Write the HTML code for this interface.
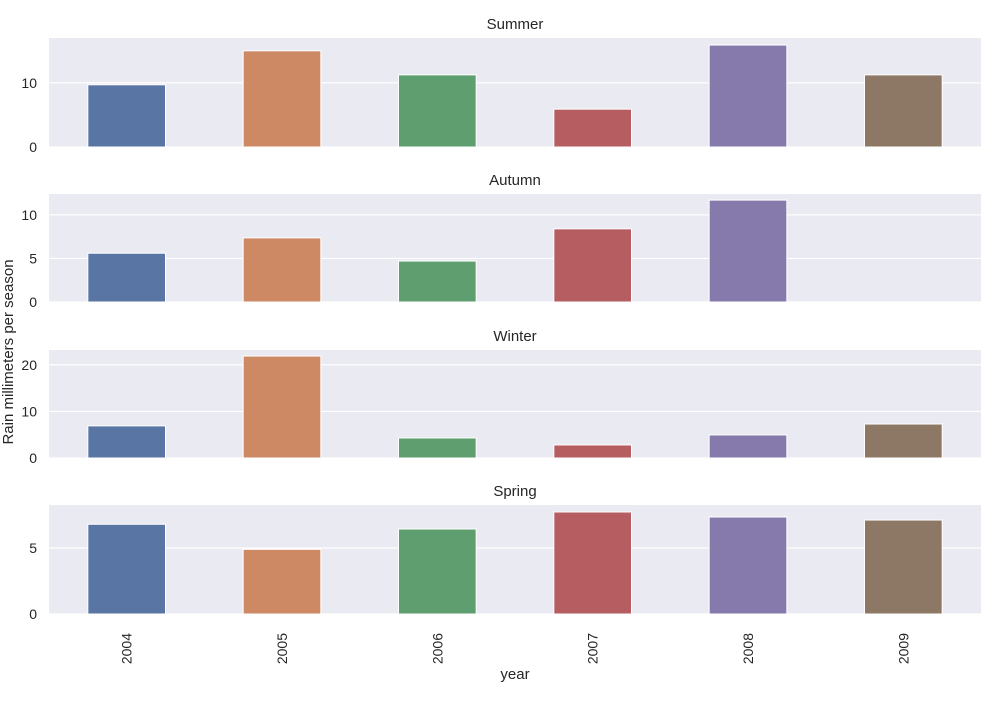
<!DOCTYPE html>
<html><head><meta charset="utf-8"><style>
body{margin:0;background:#fff;font-family:"Liberation Sans",sans-serif}
svg text{font-family:"Liberation Sans",sans-serif;fill:#262626}
</style></head><body>
<svg id="chart" width="1000" height="700"></svg>
<script>
const years = ["2004","2005","2006","2007","2008","2009"];
const seasons = ["Summer","Autumn","Winter","Spring"];
const summerVals = [9.7, 15.0, 11.25, 5.9, 15.9, 11.25];
const autumnVals = [5.6, 7.36, 4.7, 8.4, 11.7, null];
const winterVals = [6.9, 21.9, 4.3, 2.8, 4.95, 7.3];
const springVals = [6.8, 4.9, 6.44, 7.73, 7.35, 7.12];
const summerTicks = [0, 10];
const autumnTicks = [0, 5, 10];
const winterTicks = [0, 10, 20];
const springTicks = [0, 5];
const yMaxes = [17.0, 12.4, 23.2, 8.26];

const allVals = [summerVals, autumnVals, winterVals, springVals];
const allTicks = [summerTicks, autumnTicks, winterTicks, springTicks];
const colors = ["#5875a4","#cc8963","#5f9e6e","#b55d60","#857aab","#8d7866"];
const panels = [{top:38,bottom:147},{top:194,bottom:302},{top:350,bottom:458},{top:505,bottom:614}];
const X0 = 49, X1 = 981;
const NS = "http://www.w3.org/2000/svg";
const svg = document.getElementById("chart");
function mk(tag, attrs, parent){const e=document.createElementNS(NS,tag);for(const k in attrs)e.setAttribute(k,attrs[k]);(parent||svg).appendChild(e);return e;}
const band = (X1-X0)/years.length;
function xCenter(i){return X0+band*(i+0.5);}

panels.forEach((p,pi)=>{
  const g = mk("g",{});
  
  
  const yScale = v => p.bottom - (v/yMaxes[pi])*(p.bottom-p.top);
  const bg = mk("rect",{x:X0,y:p.top,width:X1-X0,height:p.bottom-p.top,fill:"#eaeaf2"},g);
  
  
  allTicks[pi].forEach(t=>{
    const y=yScale(t);
    const gl = mk("line",{x1:X0,x2:X1,y1:y,y2:y,stroke:"#fff","stroke-width":1.2},g);
    
    
    const tl = mk("text",{x:37,y:y+5,"text-anchor":"end","font-size":14},g);
    tl.textContent=t;
    
    
  });
  allVals[pi].forEach((v,i)=>{
    if(v==null) return;
    const w = band*0.5;
    const r = mk("rect",{x:xCenter(i)-w/2,y:yScale(v),width:w,height:yScale(0)-yScale(v),fill:colors[i],stroke:"#fff","stroke-width":1},g);
    
    
  });
  const ti = mk("text",{x:(X0+X1)/2,y:p.top-9,"text-anchor":"middle","font-size":15},g);
  ti.textContent = seasons[pi];
  
  
});
years.forEach((yr,i)=>{
  const t = mk("text",{transform:`translate(${xCenter(i)+5},633) rotate(-90)`,"text-anchor":"end","font-size":14});
  t.textContent=yr;
  
  
});
const xt = mk("text",{x:515,y:679,"text-anchor":"middle","font-size":15});
xt.textContent="year";


const yt = mk("text",{transform:"translate(13,352) rotate(-90)","text-anchor":"middle","font-size":15});
yt.textContent="Rain millimeters per season";


</script>
</body></html>
